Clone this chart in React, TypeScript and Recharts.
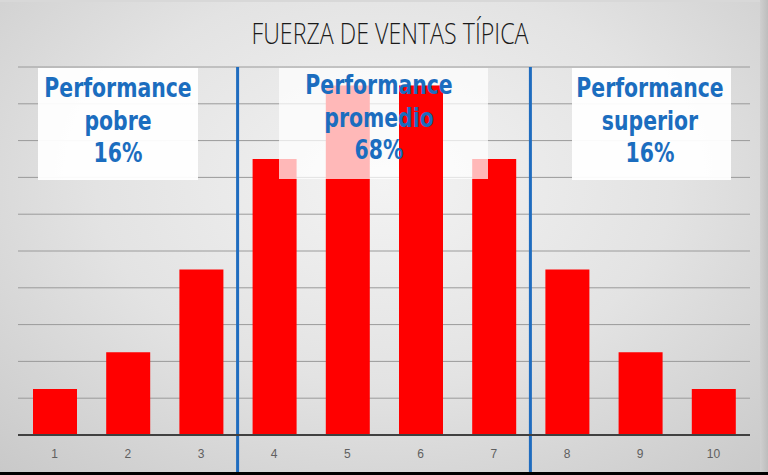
import React from "react";
import { BarChart, Bar, XAxis, YAxis, CartesianGrid, ReferenceLine } from "recharts";

const categories = [1, 2, 3, 4, 5, 6, 7, 8, 9, 10];
const values = [2.5, 4.5, 9, 15, 19, 19, 15, 9, 4.5, 2.5];
const yTicks = [0, 2, 4, 6, 8, 10, 12, 14, 16, 18, 20];
const dividers = [3.5, 7.5];
const title = "FUERZA DE VENTAS TÍPICA";
const groupLabels = [
  ["Performance", "pobre", "16%"],
  ["Performance", "promedio", "68%"],
  ["Performance", "superior", "16%"],
];

const data = categories.map((c, i) => ({ cat: c, value: values[i] }));

const BLUE = "#1b6dbf";
const labelFont = "'DejaVu Sans Condensed', 'Liberation Sans', sans-serif";

const Box = ({ left, top, width, height, alpha }: any) => (
  <div
    style={{
      position: "absolute",
      left,
      top,
      width,
      height,
      background: `rgba(255,255,255,${alpha})`,
    }}
  />
);

const Label = ({ lines, cx, top }: any) => (
  <div
    style={{
      position: "absolute",
      left: cx - 120,
      top,
      width: 240,
      textAlign: "center",
      color: BLUE,
      fontFamily: labelFont,
      fontWeight: 700,
      fontSize: 27,
      lineHeight: "32.5px",
      transform: "scaleX(0.84)",
      transformOrigin: "50% 50%",
    }}
  >
    {lines.map((l: string, i: number) => (
      <div key={i}>{l}</div>
    ))}
  </div>
);

export default function App() {
  return (
    <div
      style={{
        position: "absolute",
        left: 0,
        top: 0,
        width: 768,
        height: 475,
        overflow: "hidden",
        background:
          "radial-gradient(ellipse 75% 85% at 50% 38%, #f3f3f3 0%, #e3e3e3 50%, #c8c8c8 100%)",
      }}
    >
      <div
        style={{
          position: "absolute",
          left: 0,
          top: 0,
          width: 768,
          height: 2,
          background: "#d8d8d8",
        }}
      />
      <div
        style={{
          position: "absolute",
          right: 0,
          top: 0,
          width: 8,
          height: 475,
          background: "linear-gradient(to right, #cfcfcf, #bdbdbd)",
        }}
      />
      <div
        style={{
          position: "absolute",
          left: 0,
          top: 13,
          width: 780,
          textAlign: "center",
          fontFamily: "'Open Sans', 'DejaVu Sans Condensed', sans-serif",
          fontWeight: 300,
          fontSize: 29,
          color: "#1a1a1a",
          transform: "scaleX(0.8)",
          transformOrigin: "50% 50%",
        }}
      >
        {title}
      </div>
      <div style={{ position: "absolute", left: 0, top: 0 }}>
        <BarChart
          width={768}
          height={475}
          data={data}
          margin={{ top: 67, right: 18, left: 18, bottom: 0 }}
        >
          <CartesianGrid vertical={false} stroke="#9a9a9a" strokeWidth={1} />
          <XAxis
            dataKey="cat"
            type="number"
            domain={[0.5, 10.5]}
            ticks={categories}
            height={40}
            tickLine={false}
            tickMargin={8}
            axisLine={{ stroke: "#404040", strokeWidth: 2 }}
            tick={{ fill: "#606060", fontSize: 12, fontFamily: "'Liberation Sans', sans-serif" }}
          />
          <YAxis hide domain={[0, 20]} ticks={yTicks} />
          <Bar dataKey="value" fill="#ff0000" barSize={44} isAnimationActive={false} />
          {dividers.map((d) => (
            <ReferenceLine
              key={d}
              segment={[
                { x: d, y: 20 },
                { x: d, y: -2.3 },
              ]}
              ifOverflow="visible"
              stroke="#1f6cbf"
              strokeWidth={3}
            />
          ))}
        </BarChart>
      </div>
      <Box left={38} top={68} width={160} height={112} alpha={0.94} />
      <Box left={279} top={68} width={120} height={111} alpha={0.72} />
      <Box left={399} top={68} width={44} height={17} alpha={0.72} />
      <Box left={443} top={68} width={45} height={111} alpha={0.72} />
      <Box left={572} top={68} width={159} height={112} alpha={0.94} />
      <Label lines={groupLabels[0]} cx={118} top={72} />
      <Label lines={groupLabels[1]} cx={379} top={69} />
      <Label lines={groupLabels[2]} cx={650} top={72} />
      <div
        style={{
          position: "absolute",
          left: 0,
          bottom: 0,
          width: 768,
          height: 3,
          background: "#000",
        }}
      />
    </div>
  );
}
